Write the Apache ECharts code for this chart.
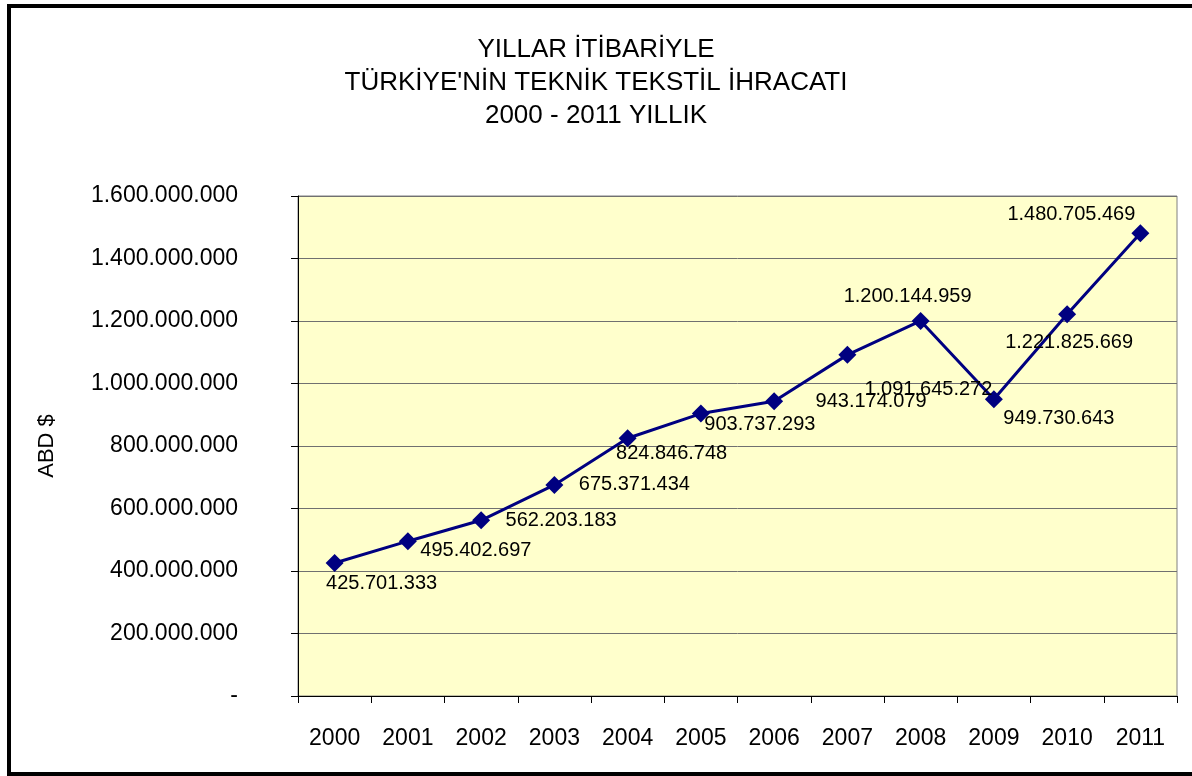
<!DOCTYPE html>
<html>
<head>
<meta charset="utf-8">
<script src="https://cdn.jsdelivr.net/npm/echarts@6/dist/echarts.min.js"></script>
<style>
  html, body { margin: 0; padding: 0; background: #fff; }
  #chart { width: 1192px; height: 776px; }
</style>
</head>
<body>
<div id="chart"></div>
<script>
var years = ['2000', '2001', '2002', '2003', '2004', '2005', '2006', '2007', '2008', '2009', '2010', '2011'];
var exports = [425701333, 495402697, 562203183, 675371434, 824846748, 903737293,
	943174079, 1091645272, 1200144959, 949730643, 1221825669, 1480705469];
var titleLines = ['YILLAR İTİBARİYLE', "TÜRKİYE'NİN TEKNİK TEKSTİL İHRACATI", '2000 - 2011 YILLIK'];

// etiketlerin noktaya göre kaydırması (Excel'deki yerleşime benzetmek için)
var labelShift = [[47, 21], [68, 9], [80, 0], [80, 0], [44, 15], [59, 11],
	[97, 0], [81, 35], [-13, -24], [65, 19], [2, 28], [-69, -19]];

function fmt(v) {
	if (v === 0) return '-';
	return String(Math.round(v)).replace(/\B(?=(\d{3})+(?!\d))/g, '.');
}

var font = 'Liberation Sans, Arial, sans-serif';
var myChart = echarts.init(document.getElementById('chart'));

var seriesData = [];
for (var i = 0; i < exports.length; i++) {
	seriesData.push({
		value: exports[i],
		label: { offset: labelShift[i] }
	});
}

var option = {
	animation: false,
	backgroundColor: '#fff',
	title: {
		text: titleLines.join('\n'),
		left: 'center',
		top: 28,
		textStyle: { fontFamily: font, fontWeight: 'normal', fontSize: 26, color: '#000', lineHeight: 33 }
	},
	graphic: [{
		type: 'rect',
		shape: { x: 9, y: 6, width: 1190, height: 768 },
		style: { fill: null, stroke: '#000', lineWidth: 4 }
	}],
	grid: {
		left: 298, right: 15, top: 196, bottom: 80,
		show: true, backgroundColor: '#ffffcc', borderColor: '#808080', borderWidth: 1
	},
	xAxis: {
		type: 'category',
		data: years,
		boundaryGap: true,
		axisLine: { lineStyle: { color: '#000', width: 1 } },
		axisTick: { show: true, length: 7, lineStyle: { color: '#000' } },
		axisLabel: { color: '#000', fontFamily: font, fontSize: 23, margin: 31 }
	},
	yAxis: {
		type: 'value',
		min: 0, max: 1600000000, interval: 200000000,
		name: 'ABD $',
		nameLocation: 'middle',
		nameGap: 240,
		nameRotate: 90,
		nameTextStyle: { color: '#000', fontFamily: font, fontSize: 22 },
		axisLine: { show: true, lineStyle: { color: '#000', width: 1 } },
		axisTick: { show: true, length: 7, lineStyle: { color: '#000' } },
		splitLine: { show: true, lineStyle: { color: '#707070', width: 1 } },
		axisLabel: { color: '#000', fontFamily: font, fontSize: 23, margin: 60, formatter: fmt }
	},
	series: [{
		type: 'line',
		data: seriesData,
		symbol: 'diamond',
		symbolSize: 18,
		lineStyle: { color: '#000080', width: 3 },
		itemStyle: { color: '#000080' },
		label: {
			show: true,
			position: 'inside',
			color: '#000',
			fontFamily: font,
			fontSize: 20,
			formatter: function (p) { return fmt(p.value); }
		}
	}]
};

myChart.setOption(option);
</script>
</body>
</html>
